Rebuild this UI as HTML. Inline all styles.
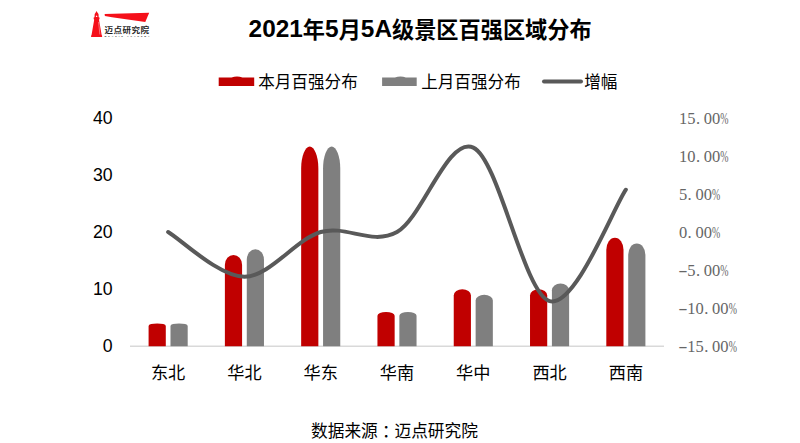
<!DOCTYPE html>
<html lang="zh-CN">
<head>
<meta charset="utf-8">
<title>2021年5月5A级景区百强区域分布</title>
<style>
html,body{margin:0;padding:0;background:#fff;}
body{width:800px;height:443px;overflow:hidden;font-family:"Liberation Sans","Noto Sans CJK SC",sans-serif;}
svg{display:block;}
.sans{font-family:"Liberation Sans","Noto Sans CJK SC",sans-serif;}
.serif{font-family:"Liberation Serif","Noto Serif CJK SC",serif;}
</style>
</head>
<body>
<svg width="800" height="443" viewBox="0 0 800 443">
<rect width="800" height="443" fill="#ffffff"/>

<!-- logo -->
<g id="logo">
<path d="M96.55,11.1 L97.2,12.2 L98.5,14.0 L98.7,17.3 L99.5,17.6 L99.5,19.1 L99.0,19.7 L101.7,35.3 L102.1,35.5 L102.1,36.9 L91.1,36.9 L91.1,35.5 L91.5,35.3 L94.2,19.7 L93.7,19.1 L93.7,17.6 L94.5,17.3 L94.7,14.0 L95.9,12.2 Z" fill="#f5101a"/>
<path d="M95.7,16.9 L96.6,15.3 L97.5,16.9 Z" fill="#ffffff"/>
<path d="M98.6,22 L99.9,34.5" stroke="#ffffff" stroke-width="0.5" fill="none" opacity="0.8"/>
<polygon points="104.6,14.0 149.2,12.7 145.3,22.0 112,17.3 104.9,15.9" fill="#f5101a"/>
<text class="sans" x="104.4" y="32.6" font-size="7.7" font-weight="700" fill="#1f1f1f" letter-spacing="0.4" textLength="45.2" lengthAdjust="spacingAndGlyphs">迈点研究院</text>
<text class="sans" x="104.6" y="37" font-size="2.2" font-weight="700" fill="#333" letter-spacing="1.9">MEADIN ACADEMY</text>
</g>

<!-- title -->
<text class="sans" x="248.6" y="37.8" font-size="22.2" font-weight="700" fill="#000"><tspan font-size="24.4" dy="-1.3">2021</tspan><tspan dy="1.3">年</tspan><tspan font-size="24.4" dy="-1.3">5</tspan><tspan dy="1.3">月</tspan><tspan font-size="24.4" dy="-1.3">5A</tspan><tspan dy="1.3">级景区百强区域分布</tspan></text>

<!-- legend -->
<g class="sans" font-size="16.6" fill="#000">
<path d="M218.7,86.1 L218.7,77.4 L231.5,77.4 Q237,75.4 242.5,77.4 L254.2,77.4 L254.2,86.1 Z" fill="#c00000"/>
<text x="258.2" y="87.6">本月百强分布</text>
<path d="M382.1,86.1 L382.1,77.4 L394.9,77.4 Q400.4,75.4 405.9,77.4 L416.7,77.4 L416.7,86.1 Z" fill="#7f7f7f"/>
<text x="421.2" y="87.6">上月百强分布</text>
<path d="M544,81.5 L581,81.5" stroke="#595959" stroke-width="4" stroke-linecap="round"/>
<text x="584.2" y="87.6">增幅</text>
</g>

<!-- axis -->
<path d="M130.0,346.2 L664.0,346.2" stroke="#d9d9d9" stroke-width="1.4"/>

<!-- bars -->
<g>
<path d="M148.59,346.2 L148.59,325.89 A8.60,2.51 0 0 1 165.79,325.89 L165.79,346.2 Z" fill="#c00000"/>
<path d="M170.49,346.2 L170.49,325.89 A8.60,2.51 0 0 1 187.69,325.89 L187.69,346.2 Z" fill="#7f7f7f"/>
<path d="M224.88,346.2 L224.88,264.95 A8.60,10.04 0 0 1 242.08,264.95 L242.08,346.2 Z" fill="#c00000"/>
<path d="M246.78,346.2 L246.78,259.87 A8.60,10.67 0 0 1 263.98,259.87 L263.98,346.2 Z" fill="#7f7f7f"/>
<path d="M301.16,346.2 L301.16,168.46 A8.60,21.97 0 0 1 318.36,168.46 L318.36,346.2 Z" fill="#c00000"/>
<path d="M323.06,346.2 L323.06,168.46 A8.60,21.97 0 0 1 340.26,168.46 L340.26,346.2 Z" fill="#7f7f7f"/>
<path d="M377.45,346.2 L377.45,315.73 A8.60,3.77 0 0 1 394.65,315.73 L394.65,346.2 Z" fill="#c00000"/>
<path d="M399.35,346.2 L399.35,315.73 A8.60,3.77 0 0 1 416.55,315.73 L416.55,346.2 Z" fill="#7f7f7f"/>
<path d="M453.74,346.2 L453.74,295.42 A8.60,6.28 0 0 1 470.94,295.42 L470.94,346.2 Z" fill="#c00000"/>
<path d="M475.64,346.2 L475.64,300.49 A8.60,5.65 0 0 1 492.84,300.49 L492.84,346.2 Z" fill="#7f7f7f"/>
<path d="M530.02,346.2 L530.02,295.42 A8.60,6.28 0 0 1 547.22,295.42 L547.22,346.2 Z" fill="#c00000"/>
<path d="M551.92,346.2 L551.92,290.34 A8.60,6.90 0 0 1 569.12,290.34 L569.12,346.2 Z" fill="#7f7f7f"/>
<path d="M606.31,346.2 L606.31,249.71 A8.60,11.93 0 0 1 623.51,249.71 L623.51,346.2 Z" fill="#c00000"/>
<path d="M628.21,346.2 L628.21,254.79 A8.60,11.30 0 0 1 645.41,254.79 L645.41,346.2 Z" fill="#7f7f7f"/>
</g>
<!-- growth line -->
<path d="M168.14,232.00 C180.86,239.45 219.00,276.69 244.43,276.69 C269.86,276.69 295.29,239.45 320.71,232.00 C346.14,224.55 371.57,246.07 397.00,232.00 C422.43,217.93 447.86,136.05 473.29,147.56 C498.71,159.08 524.14,294.05 549.57,301.08 C575.00,308.11 613.14,208.30 625.86,189.74" fill="none" stroke="#595959" stroke-width="4" stroke-linecap="round" stroke-linejoin="round"/>

<!-- left axis -->
<g class="sans" fill="#000">
<text x="112.6" y="351.8" text-anchor="end" font-size="17.7">0</text>
<text x="112.6" y="294.7" text-anchor="end" font-size="17.7">10</text>
<text x="112.6" y="237.7" text-anchor="end" font-size="17.7">20</text>
<text x="112.6" y="180.6" text-anchor="end" font-size="17.7">30</text>
<text x="112.6" y="123.6" text-anchor="end" font-size="17.7">40</text>
</g>
<!-- right axis -->
<g class="serif" fill="#666666" font-size="16.5" text-anchor="middle">
<g><text transform="translate(682.84,351.6) scale(1.7,1)">-</text><text x="691.40" y="351.6">1</text><text x="699.67" y="351.6">5</text><text x="706.21" y="351.6">.</text><text x="716.22" y="351.6">0</text><text x="724.49" y="351.6">0</text><text transform="translate(732.75,351.6) scale(0.6,1)">%</text></g>
<g><text transform="translate(682.84,313.6) scale(1.7,1)">-</text><text x="691.40" y="313.6">1</text><text x="699.67" y="313.6">0</text><text x="706.21" y="313.6">.</text><text x="716.22" y="313.6">0</text><text x="724.49" y="313.6">0</text><text transform="translate(732.75,313.6) scale(0.6,1)">%</text></g>
<g><text transform="translate(682.84,275.6) scale(1.7,1)">-</text><text x="691.40" y="275.6">5</text><text x="697.94" y="275.6">.</text><text x="707.94" y="275.6">0</text><text x="716.22" y="275.6">0</text><text transform="translate(724.49,275.6) scale(0.6,1)">%</text></g>
<g><text x="683.13" y="237.6">0</text><text x="689.67" y="237.6">.</text><text x="699.67" y="237.6">0</text><text x="707.94" y="237.6">0</text><text transform="translate(716.22,237.6) scale(0.6,1)">%</text></g>
<g><text x="683.13" y="199.6">5</text><text x="689.67" y="199.6">.</text><text x="699.67" y="199.6">0</text><text x="707.94" y="199.6">0</text><text transform="translate(716.22,199.6) scale(0.6,1)">%</text></g>
<g><text x="683.13" y="161.6">1</text><text x="691.40" y="161.6">0</text><text x="697.94" y="161.6">.</text><text x="707.94" y="161.6">0</text><text x="716.22" y="161.6">0</text><text transform="translate(724.49,161.6) scale(0.6,1)">%</text></g>
<g><text x="683.13" y="123.6">1</text><text x="691.40" y="123.6">5</text><text x="697.94" y="123.6">.</text><text x="707.94" y="123.6">0</text><text x="716.22" y="123.6">0</text><text transform="translate(724.49,123.6) scale(0.6,1)">%</text></g>
</g>
<!-- categories -->
<g class="sans" fill="#000">
<text x="168.1" y="379.2" text-anchor="middle" font-size="17.2">东北</text>
<text x="244.4" y="379.2" text-anchor="middle" font-size="17.2">华北</text>
<text x="320.7" y="379.2" text-anchor="middle" font-size="17.2">华东</text>
<text x="397.0" y="379.2" text-anchor="middle" font-size="17.2">华南</text>
<text x="473.3" y="379.2" text-anchor="middle" font-size="17.2">华中</text>
<text x="549.6" y="379.2" text-anchor="middle" font-size="17.2">西北</text>
<text x="625.9" y="379.2" text-anchor="middle" font-size="17.2">西南</text>
</g>

<!-- source -->
<text class="sans" x="394.5" y="437.3" text-anchor="middle" font-size="16.7" fill="#000">数据来源<tspan dx="4.2">：</tspan><tspan dx="-4.2">迈点研究院</tspan></text>
</svg>
</body>
</html>
